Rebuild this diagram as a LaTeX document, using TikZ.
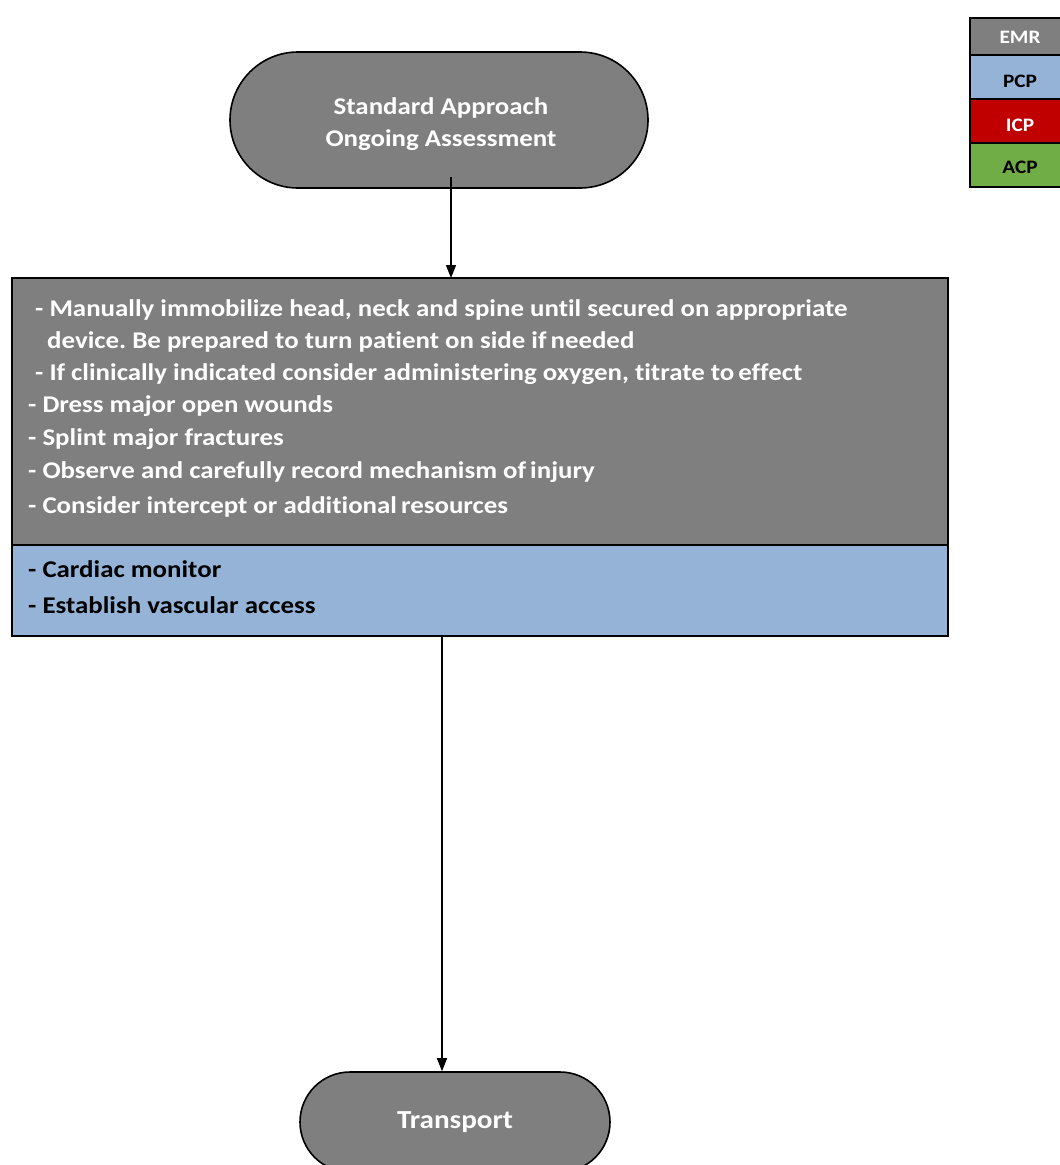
\documentclass[tikz,border=0pt]{standalone}
\usepackage{fontspec}
\setmainfont{Carlito}[Ligatures=NoCommon, FakeStretch=1.12]
\usetikzlibrary{arrows.meta,shapes.misc}
\definecolor{emrgray}{HTML}{7F7F7F}
\definecolor{pcpblue}{HTML}{95B3D7}
\definecolor{icpred}{HTML}{C00000}
\definecolor{acpgreen}{HTML}{70AD47}
\frenchspacing
\begin{document}
\begin{tikzpicture}[x=1pt,y=-1pt,
  pill/.style={rounded rectangle, draw=black, line width=1.6pt, fill=emrgray, text=white, align=center, inner sep=0pt},
  boxstyle/.style={draw=black, line width=1.4pt},
  itemw/.style={anchor=west, text=white, font=\fontsize{24}{28}\selectfont\bfseries, inner sep=0pt},
  itemb/.style={anchor=west, text=black, font=\fontsize{24}{28}\selectfont\bfseries, inner sep=0pt},
  legtext/.style={font=\fontsize{19}{22}\selectfont\bfseries, inner sep=0pt},
  conn/.style={line width=1.3pt, -{Triangle[length=13pt,width=10pt]}}
]
\useasboundingbox (0,0) rectangle (1060,1165);
\begin{scope}
\clip (0,0) rectangle (1060,1165);
% legend
\fill[emrgray] (970,18) rectangle (1068,55);
\fill[pcpblue] (970,55) rectangle (1068,99);
\fill[icpred] (970,99) rectangle (1068,143);
\fill[acpgreen] (970,143) rectangle (1068,187);
\draw[black, line width=1.5pt] (970,18) rectangle (1068,187);
\draw[black, line width=1.5pt] (970,55) -- (1068,55) (970,99) -- (1068,99) (970,143) -- (1068,143);
\node[legtext, text=white] (lemr) at (1020,37) {EMR};
\node[legtext, text=black] (lpcp) at (1020,81) {PCP};
\node[legtext, text=white] (licp) at (1020,125) {ICP};
\node[legtext, text=black] (lacp) at (1020,167) {ACP};

% top pill
\node[pill, minimum width=418pt, minimum height=136pt, font=\fontsize{24}{32}\selectfont\bfseries] (start) at (439,120) {};
\node[text=white, font=\fontsize{24}{32}\selectfont\bfseries, align=center, inner sep=0pt] (starttext) at (441,124) {Standard Approach\\Ongoing Assessment};

% main boxes
\draw[boxstyle, fill=emrgray] (12,278) rectangle (948,545);
\draw[boxstyle, fill=pcpblue] (12,545) rectangle (948,636);
\coordinate (emrtop) at (451,278);
\coordinate (pcpbot) at (442,636);

\node[itemw] (t1) at (35,310) {- Manually immobilize head, neck and spine until secured on appropriate};
\node[itemw] (t2) at (47,342) {device. Be prepared to turn patient on side if\,needed};
\node[itemw] (t3) at (35,374) {- If clinically indicated consider administering oxygen, titrate to\,effect};
\node[itemw] (t4) at (28,406) {- Dress major open wounds};
\node[itemw] (t5) at (28,439) {- Splint major fractures};
\node[itemw] (t6) at (28,472) {- Observe and carefully record mechanism of\,injury};
\node[itemw] (t7) at (28,507) {- Consider intercept or additional\,resources};
\node[itemb] (b1) at (28,569) {- Cardiac monitor};
\node[itemb] (b2) at (28,605) {- Establish vascular access};

% transport pill
\node[pill, minimum width=310pt, minimum height=100pt, font=\fontsize{26}{30}\selectfont\bfseries] (transport) at (455,1122) {Transport};

% connectors
\coordinate (startout) at (451,177);
\draw[conn] (startout) -- (emrtop);
\draw[conn] (pcpbot) -- (pcpbot |- transport.north);
\end{scope}
\end{tikzpicture}
\end{document}
